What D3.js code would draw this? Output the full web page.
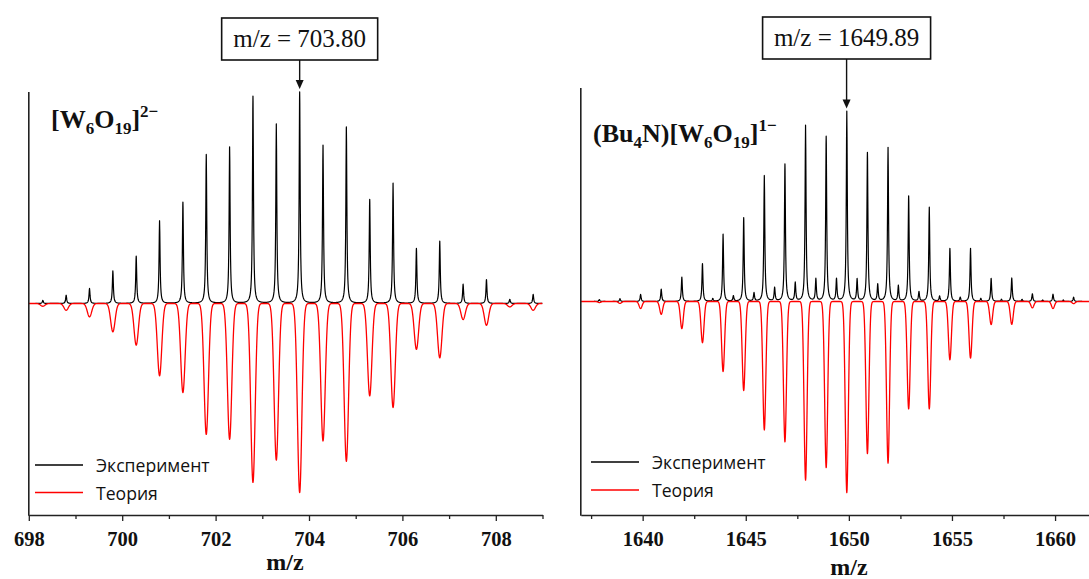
<!DOCTYPE html>
<html>
<head>
<meta charset="utf-8">
<script src="https://cdn.jsdelivr.net/npm/d3@7"></script>
<style>
  html, body { margin: 0; padding: 0; background: #fff; }
  svg { display: block; }
</style>
</head>
<body>
<svg id="chart" width="1089" height="579"></svg>
<script>
// ---------- DATA ----------
// Left panel: [W6O19]2-  (peaks every 0.5 m/z)
const leftMz = [698.3, 698.8, 699.3, 699.8, 700.3, 700.8, 701.3, 701.8, 702.3, 702.8, 703.3,
                703.8, 704.3, 704.8, 705.3, 705.8, 706.3, 706.8, 707.3, 707.8, 708.3, 708.8];
const leftExp = [1.5, 3.9, 7.1, 15.4, 22.4, 39.1, 47.9, 70.4, 74.0, 98.0, 84.8,
                 100, 74.8, 83.4, 49.2, 56.9, 26.0, 29.5, 9.1, 11.3, 2.0, 4.3];
const leftTheory = [1.3, 3.2, 6.3, 13.4, 19.7, 34.2, 42.1, 61.9, 64.2, 84.6, 74.1,
                    89.4, 65.0, 74.6, 43.7, 49.2, 21.7, 25.7, 7.6, 10.3, 1.6, 3.2];
const leftMajorTicks = [698, 700, 702, 704, 706, 708];
const leftMinorTicks = [699, 701, 703, 705, 707, 709];
const leftPeakLabel = "m/z = 703.80";
const leftPeakMz = 703.8;

// Right panel: (Bu4N)[W6O19]1-  (peaks every 1 m/z)
const rightMz = [1637.9, 1638.9, 1639.9, 1640.9, 1641.9, 1642.9, 1643.9, 1644.9, 1645.9, 1646.9,
                 1647.9, 1648.9, 1649.9, 1650.9, 1651.9, 1652.9, 1653.9, 1654.9, 1655.9, 1656.9,
                 1657.9, 1658.9, 1659.9, 1660.9];
const rightExp = [0.9, 1.3, 3.3, 5.8, 11.4, 17.7, 31.5, 39.2, 58.9, 64.3,
                  82.4, 77.2, 89.0, 69.7, 72.1, 49.4, 44.1, 24.8, 24.9, 10.8,
                  11.0, 3.6, 3.4, 2.0];
const rightTheory = [0.5, 0.9, 3.3, 6.0, 12.7, 19.3, 32.8, 41.7, 60.2, 65.7,
                     83.7, 77.8, 89.5, 71.2, 75.7, 50.3, 50.3, 27.3, 26.5, 10.8,
                     10.7, 3.0, 3.3, 1.0];
// minor experimental peaks between the main ones
const rightMinorMz = [1643.4, 1644.4, 1645.4, 1646.4, 1647.4, 1648.4, 1649.4, 1650.4, 1651.4,
                      1652.4, 1653.4, 1654.4, 1655.4, 1656.4, 1657.4, 1658.4, 1659.4, 1660.4];
const rightMinorExp = [1.3, 2.5, 3.9, 6.3, 8.6, 10.3, 10.3, 10.2, 7.8,
                       7.2, 4.4, 2.4, 1.9, 1.4, 1.0, 1.0, 0.7, 0.7];
const rightMajorTicks = [1640, 1645, 1650, 1655, 1660];
const rightMinorTicks = [1637.5, 1642.5, 1647.5, 1652.5, 1657.5, 1662.5];
const rightPeakLabel = "m/z = 1649.89";
const rightPeakMz = 1649.89;

const legendLabels = ["Эксперимент", "Теория"];
const xTitle = "m/z";

// ---------- DRAWING ----------
const svg = d3.select("#chart");
const serif = "'Liberation Serif', 'Times New Roman', serif";
const sans = "'Open Sans', 'Noto Sans', sans-serif";

// profile sampler: peaks are rendered as narrow line shapes around each listed peak
function profile(xs, centers, values, kind, widthPx, sign) {
  const [r0, r1] = xs.range();
  const cpx = centers.map(c => xs(c));
  const pts = [];
  for (let p = r0; p <= r1; p += 0.25) pts.push(p);
  cpx.forEach(p => pts.push(p));
  pts.sort((a, b) => a - b);
  return pts.map(p => {
    let s = 0;
    for (let i = 0; i < cpx.length; i++) {
      const d = p - cpx[i];
      if (Math.abs(d) > 40) continue;
      s += kind === "lor" ? values[i] / (1 + (d / widthPx) * (d / widthPx))
                          : values[i] * Math.exp(-(d * d) / (2 * widthPx * widthPx));
    }
    return { mz: xs.invert(p), v: sign * s };
  });
}

function panel(cfg) {
  const g = svg.append("g");
  const xs = d3.scaleLinear().domain(cfg.xDomain).range(cfg.xRange);
  const ys = d3.scaleLinear().domain([-100, 100]).range([cfg.yBottom, cfg.yTop]);

  const line = d3.line().x(d => xs(d.mz)).y(d => ys(d.v));

  // experiment (black), drawn first
  g.append("path")
    .datum(profile(xs, cfg.expMz, cfg.expV, "lor", 0.6, 1))
    .attr("d", line).attr("fill", "none").attr("stroke", "#000")
    .attr("stroke-width", 1.2).attr("stroke-linejoin", "round");

  // theory (red), on top, downward
  g.append("path")
    .datum(profile(xs, cfg.thMz, cfg.thV, "gau", cfg.thSigma, -1))
    .attr("d", line).attr("fill", "none").attr("stroke", "#ff0000")
    .attr("stroke-width", 1.3).attr("stroke-linejoin", "round");

  // axes
  const axisY = cfg.yBottom;
  const major = d3.axisBottom(xs).tickValues(cfg.majorTicks).tickSize(6)
    .tickSizeOuter(0).tickPadding(10).tickFormat(d3.format("d"));
  const ga = g.append("g").attr("transform", `translate(0,${axisY})`).call(major);
  ga.select(".domain").attr("stroke", "#222").attr("stroke-width", 1.6);
  ga.selectAll(".tick line").attr("stroke", "#222").attr("stroke-width", 1.3);
  ga.selectAll(".tick text").attr("font-family", serif).attr("font-weight", "bold")
    .attr("font-size", 20.5).attr("fill", "#111");

  const minor = d3.axisBottom(xs).tickValues(cfg.minorTicks).tickSize(4)
    .tickSizeOuter(0).tickFormat("");
  const gm = g.append("g").attr("transform", `translate(0,${axisY})`).call(minor);
  gm.select(".domain").remove();
  gm.selectAll(".tick line").attr("stroke", "#222").attr("stroke-width", 1.3);

  // y axis line (no ticks)
  g.append("line").attr("x1", cfg.xRange[0]).attr("x2", cfg.xRange[0])
    .attr("y1", cfg.yTop).attr("y2", cfg.yBottom + 0.8)
    .attr("stroke", "#222").attr("stroke-width", 1.6);

  // x title
  g.append("text").attr("x", cfg.xTitleX).attr("y", cfg.xTitleY)
    .attr("text-anchor", "middle").attr("font-family", serif).attr("font-weight", "bold")
    .attr("font-size", 24).attr("fill", "#111").text(xTitle);

  // annotation box + arrow
  const px = xs(cfg.peakMz);
  const idx = cfg.expMz.indexOf(cfg.peakNear);
  const tipY = ys(cfg.expV[idx]) - 3;
  g.append("rect").attr("x", px - cfg.boxW / 2).attr("y", cfg.boxY)
    .attr("width", cfg.boxW).attr("height", cfg.boxH)
    .attr("fill", "#fff").attr("stroke", "#111").attr("stroke-width", 1.6);
  g.append("text").attr("x", px).attr("y", cfg.boxY + 29)
    .attr("text-anchor", "middle").attr("font-family", serif)
    .attr("font-size", 25).attr("fill", "#111").text(cfg.peakLabel);
  g.append("line").attr("x1", px).attr("x2", px)
    .attr("y1", cfg.boxY + cfg.boxH).attr("y2", tipY - 7)
    .attr("stroke", "#111").attr("stroke-width", 1.4);
  g.append("path")
    .attr("d", `M${px - 4},${tipY - 9} L${px + 4},${tipY - 9} L${px},${tipY} Z`)
    .attr("fill", "#111");

  // formula title
  const t = g.append("text").attr("x", cfg.titleX).attr("y", cfg.titleY)
    .attr("font-family", serif).attr("font-weight", "bold").attr("font-size", 26).attr("fill", "#111");
  cfg.title.forEach(part => {
    const ts = t.append("tspan").text(part.s);
    if (part.k === "sub") ts.attr("font-size", 17).attr("dy", 6);
    else if (part.k === "sup") ts.attr("font-size", 17).attr("dy", -11);
    else ts.attr("dy", part.back || 0);
  });

  // legend
  const lg = g.append("g");
  const colors = ["#000", "#ff0000"];
  legendLabels.forEach((lab, i) => {
    const yy = cfg.legendY[i];
    lg.append("line").attr("x1", cfg.legendX).attr("x2", cfg.legendX + 48)
      .attr("y1", yy).attr("y2", yy).attr("stroke", colors[i]).attr("stroke-width", 1.5);
    lg.append("text").attr("x", cfg.legendX + 61).attr("y", yy)
      .attr("dominant-baseline", "central").attr("font-family", sans)
      .attr("font-size", 17.6).attr("fill", "#111").text(lab);
  });
}

panel({
  xDomain: [698, 709], xRange: [28.8, 542.5], yTop: 92, yBottom: 515,
  expMz: leftMz, expV: leftExp, thMz: leftMz, thV: leftTheory, thSigma: 2.2,
  majorTicks: leftMajorTicks, minorTicks: leftMinorTicks,
  xTitleX: 285, xTitleY: 570,
  peakMz: leftPeakMz, peakNear: 703.8, peakLabel: leftPeakLabel, boxW: 156, boxY: 18, boxH: 42,
  titleX: 51, titleY: 128,
  title: [{s: "[W"}, {s: "6", k: "sub"}, {s: "O", back: -6}, {s: "19", k: "sub"},
          {s: "]", back: -6}, {s: "2−", k: "sup"}],
  legendX: 35, legendY: [465, 492.5]
});

panel({
  xDomain: [1637, 1663], xRange: [580.8, 580.8 + 26 * 20.62], yTop: 88, yBottom: 515,
  expMz: rightMz.concat(rightMinorMz), expV: rightExp.concat(rightMinorExp),
  thMz: rightMz, thV: rightTheory, thSigma: 1.5,
  majorTicks: rightMajorTicks, minorTicks: rightMinorTicks,
  xTitleX: 849, xTitleY: 575,
  peakMz: rightPeakMz, peakNear: 1649.9, peakLabel: rightPeakLabel, boxW: 168, boxY: 17, boxH: 42,
  titleX: 593, titleY: 142,
  title: [{s: "(Bu"}, {s: "4", k: "sub"}, {s: "N)[W", back: -6}, {s: "6", k: "sub"},
          {s: "O", back: -6}, {s: "19", k: "sub"}, {s: "]", back: -6}, {s: "1−", k: "sup"}],
  legendX: 591, legendY: [462, 490]
});
</script>
</body>
</html>
